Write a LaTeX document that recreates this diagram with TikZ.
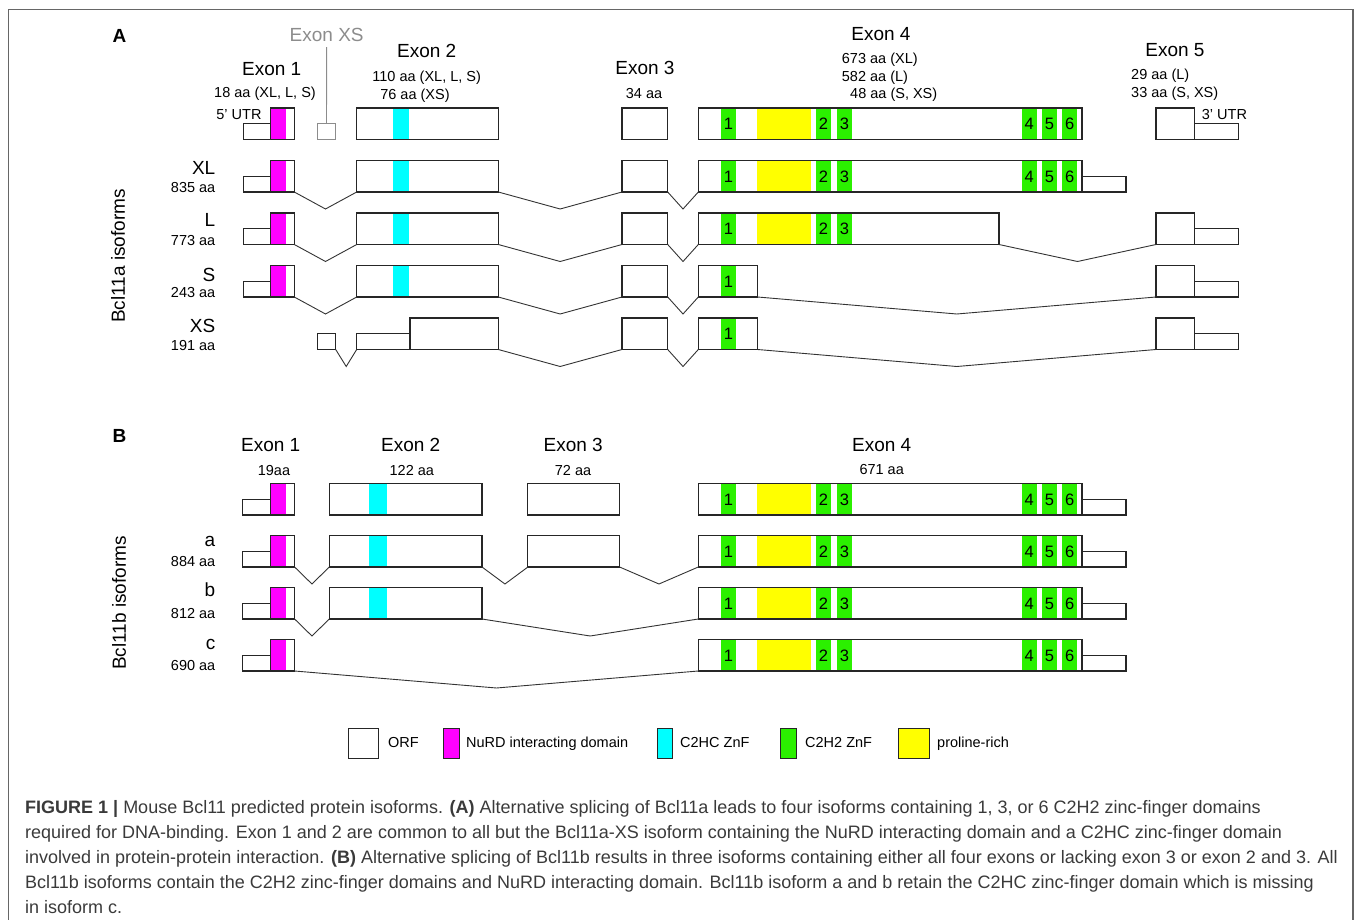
\documentclass[tikz,border=0pt]{standalone}
\usepackage{fontspec}
\setmainfont{Liberation Sans}
\newfontfamily\capfont{Liberation Sans}
\usetikzlibrary{calc}
\definecolor{nurd}{HTML}{FF00FF}
\definecolor{chc}{HTML}{00FFFF}
\definecolor{zinc}{HTML}{2BF000}
\definecolor{prol}{HTML}{FFFF00}
\definecolor{capgray}{HTML}{3A3A3A}
\definecolor{xsgray}{HTML}{8C8C8C}

\begin{document}
\begin{tikzpicture}[x=1pt, y=-1pt,
  exon/.style={draw=black!85, line width=1.1pt, inner sep=0pt, outer sep=0pt, anchor=north west, minimum height=31.5pt},
  utr/.style={exon, anchor=south west, minimum height=15.75pt},
  intron/.style={black!80, line width=0.9pt},
  zfnum/.style={inner sep=0pt, font=\fontsize{16.5}{16.5}\selectfont},
  hdr/.style={inner sep=0pt, anchor=base, font=\fontsize{19}{19}\selectfont},
  aatxt/.style={inner sep=0pt, anchor=base, font=\fontsize{14.5}{14.5}\selectfont},
  legkey/.style={draw=black!85, line width=1pt, inner sep=0pt, outer sep=0pt, minimum height=30pt, anchor=west},
  capline/.style={inner sep=0pt, anchor=base west, text=capgray, font=\capfont\fontsize{18}{18}\selectfont}]
  \useasboundingbox (0,0) rectangle (1358,920);
  \draw[black!60, line width=1.2pt] (8.3,925) -- (8.3,9.3) -- (1353,9.3) -- (1353,925);

  % zinc fingers of exon 4
  \def\zfall{1/721/736,2/816/831,3/837/852,4/1021.5/1037,5/1041.7/1057,6/1062/1077.3}
  \def\zfthree{1/721/736,2/816/831,3/837/852}
  \def\zfone{1/721/736}
  \def\fingers#1#2#3{\foreach \n/\xa/\xb in #3 {
      \fill[zinc] (\xa,#2) rectangle (\xb,#2+31.5);
      \node[zfnum] (#1z\n) at ({(\xa+\xb)/2},#2+16) {\n};}}
  \def\splice#1#2{\draw[intron] (#1.south east) -- ($(#1.south east)!.5!(#2.south west)+(0,17)$) -- (#2.south west);}

  %%% A: Bcl11a
  \node[hdr, font=\fontsize{19}{19}\selectfont\bfseries] (pA) at (119.5,42.7) {A};
  \node[hdr] (tA1) at (271.7,76) {Exon 1};
  \node[aatxt] (aA1) at (265,97.3) {18 aa (XL, L, S)};
  \node[aatxt, anchor=base east] (u5A) at (261.7,120) {5' UTR};
  \node[hdr, text=xsgray] (tAxs) at (326.7,41.7) {Exon XS};
  \node[hdr] (tA2) at (426.7,57.3) {Exon 2};
  \node[aatxt] (aA2) at (426.7,81.7) {110 aa (XL, L, S)};
  \node[aatxt] (aA2b) at (415,99.3) {76 aa (XS)};
  \node[hdr] (tA3) at (645,75) {Exon 3};
  \node[aatxt] (aA3) at (644,99) {34 aa};
  \node[hdr] (tA4) at (881,40.7) {Exon 4};
  \node[aatxt, anchor=base west] (aA4) at (841.7,63.3) {673 aa (XL)};
  \node[aatxt, anchor=base west] (aA4b) at (841.7,81.3) {582 aa (L)};
  \node[aatxt, anchor=base west] (aA4c) at (850,99) {48 aa (S, XS)};
  \node[hdr] (tA5) at (1175,56.7) {Exon 5};
  \node[aatxt, anchor=base west] (aA5) at (1131,80) {29 aa (L)};
  \node[aatxt, anchor=base west] (aA5b) at (1131,97.3) {33 aa (S, XS)};
  \node[aatxt, anchor=base west] (u3A) at (1201.7,119.3) {3' UTR};
  \node[hdr, rotate=90, anchor=center] (isoA) at (118,256) {Bcl11a isoforms};
  \node[hdr, anchor=base east] (nXL) at (215.5,174.3) {XL};
  \node[aatxt, anchor=base east] (sXL) at (215.5,192.3) {835 aa};
  \node[hdr, anchor=base east] (nL) at (215.5,226.5) {L};
  \node[aatxt, anchor=base east] (sL) at (215.5,245.7) {773 aa};
  \node[hdr, anchor=base east] (nS) at (215.5,281) {S};
  \node[aatxt, anchor=base east] (sS) at (215.5,297.5) {243 aa};
  \node[hdr, anchor=base east] (nXS) at (215.5,332.7) {XS};
  \node[aatxt, anchor=base east] (sXS) at (215.5,350) {191 aa};

  % exon 1 and 2
  \foreach \rw/\yt in {h/108,xl/160.5,l/213,s/265.5} {
    \fill[nurd] (270.7,\yt) rectangle (286,\yt+31.5);
    \fill[chc] (393.3,\yt) rectangle (409.3,\yt+31.5);
    \node[utr, minimum width=27.4] (\rw u5) at (243.3,\yt+31.5) {};
    \node[exon, minimum width=23.6] (\rw e1) at (270.7,\yt) {};
    \node[exon, minimum width=141.6] (\rw e2) at (356.7,\yt) {};
  }
  \node[utr, draw=xsgray, line width=0.9pt, minimum width=18.4] (hxs) at (317.3,139.5) {};
  \draw[xsgray, line width=0.9pt, shorten >=5pt] (hxs.north) -- (tAxs.south);
  \node[utr, minimum width=18.4] (xsxs) at (317.3,349.5) {};
  \node[utr, minimum width=53.3] (xse2a) at (356.7,349.5) {};
  \node[exon, minimum width=88.3] (xse2) at (410,318) {};

  % exon 3
  \foreach \rw/\yt in {h/108,xl/160.5,l/213,s/265.5,xs/318}
    \node[exon, minimum width=45.7] (\rw e3) at (622,\yt) {};

  % exon 4
  \foreach \yt in {108,160.5,213}
    \fill[prol] (757,\yt) rectangle (810.5,\yt+31.5);
  \fingers{h}{108}{\zfall}
  \fingers{xl}{160.5}{\zfall}
  \fingers{l}{213}{\zfthree}
  \fingers{s}{265.5}{\zfone}
  \fingers{xs}{318}{\zfone}
  \node[exon, minimum width=383.7] (he4) at (698.3,108) {};
  \node[exon, minimum width=383.7] (xle4) at (698.3,160.5) {};
  \node[exon, minimum width=300.7] (le4) at (698.3,213) {};
  \node[exon, minimum width=59.3] (se4) at (698.3,265.5) {};
  \node[exon, minimum width=59.3] (xse4) at (698.3,318) {};
  \node[utr, minimum width=44] (xlu3) at (1082,192) {};

  % exon 5
  \foreach \rw/\yt in {h/108,l/213,s/265.5,xs/318} {
    \node[exon, minimum width=38.3] (\rw e5) at (1156,\yt) {};
    \node[utr, minimum width=44] (\rw u3) at (1194.3,\yt+31.5) {};
  }

  \splice{xle1}{xle2} \splice{xle2}{xle3} \splice{xle3}{xle4}
  \splice{le1}{le2} \splice{le2}{le3} \splice{le3}{le4} \splice{le4}{le5}
  \splice{se1}{se2} \splice{se2}{se3} \splice{se3}{se4} \splice{se4}{se5}
  \splice{xsxs}{xse2a} \splice{xse2}{xse3} \splice{xse3}{xse4} \splice{xse4}{xse5}

  %%% B: Bcl11b
  \node[hdr, font=\fontsize{19}{19}\selectfont\bfseries] (pB) at (119.5,442.7) {B};
  \node[hdr] (tB1) at (270.7,451.5) {Exon 1};
  \node[aatxt] (aB1) at (274,475) {19aa};
  \node[hdr] (tB2) at (410.7,451.5) {Exon 2};
  \node[aatxt] (aB2) at (411.8,475) {122 aa};
  \node[hdr] (tB3) at (573.2,451.5) {Exon 3};
  \node[aatxt] (aB3) at (573,475) {72 aa};
  \node[hdr] (tB4) at (881.7,451) {Exon 4};
  \node[aatxt] (aB4) at (881.7,474.5) {671 aa};
  \node[hdr, rotate=90, anchor=center] (isoB) at (119,603) {Bcl11b isoforms};
  \node[hdr, anchor=base east] (na) at (215.5,546) {a};
  \node[aatxt, anchor=base east] (sa) at (215.5,566.7) {884 aa};
  \node[hdr, anchor=base east] (nb) at (215.5,596.7) {b};
  \node[aatxt, anchor=base east] (sb) at (215.5,618.3) {812 aa};
  \node[hdr, anchor=base east] (nc) at (215.5,649.3) {c};
  \node[aatxt, anchor=base east] (sc) at (215.5,670.7) {690 aa};

  \foreach \rw/\yt in {bh/483.5,ba/535.5,bb/587.5,bc/639.5} {
    \fill[nurd] (270.7,\yt) rectangle (286.4,\yt+31.5);
    \fill[prol] (757,\yt) rectangle (810.5,\yt+31.5);
    \fingers{\rw}{\yt}{\zfall}
    \node[utr, minimum width=27.8] (\rw u5) at (242.9,\yt+31.5) {};
    \node[exon, minimum width=23.9] (\rw e1) at (270.7,\yt) {};
    \node[exon, minimum width=383.7] (\rw e4) at (698.3,\yt) {};
    \node[utr, minimum width=44] (\rw u3) at (1082,\yt+31.5) {};
  }
  \foreach \rw/\yt in {bh/483.5,ba/535.5,bb/587.5} {
    \fill[chc] (368.9,\yt) rectangle (386.8,\yt+31.5);
    \node[exon, minimum width=152.7] (\rw e2) at (329.3,\yt) {};
  }
  \foreach \rw/\yt in {bh/483.5,ba/535.5}
    \node[exon, minimum width=91.7] (\rw e3) at (527.9,\yt) {};

  \splice{bae1}{bae2} \splice{bae2}{bae3} \splice{bae3}{bae4}
  \splice{bbe1}{bbe2} \splice{bbe2}{bbe4}
  \splice{bce1}{bce4}

  % legend
  \node[legkey, minimum width=30] (kORF) at (348.5,743) {};
  \node[legkey, fill=nurd, minimum width=16] (kNuRD) at (443,743) {};
  \node[legkey, fill=chc, minimum width=15] (kC2HC) at (657,743) {};
  \node[legkey, fill=zinc, minimum width=15.5] (kC2H2) at (780.5,743) {};
  \node[legkey, fill=prol, minimum width=30.5] (kPro) at (898.5,743) {};
  \node[aatxt, anchor=base west] (lORF) at (388,747.5) {ORF};
  \node[aatxt, anchor=base west] (lNuRD) at (466,747.5) {NuRD interacting domain};
  \node[aatxt, anchor=base west] (lC2HC) at (680,747.5) {C2HC ZnF};
  \node[aatxt, anchor=base west] (lC2H2) at (805,747.5) {C2H2 ZnF};
  \node[aatxt, anchor=base west] (lPro) at (937,747.5) {proline-rich};

  % caption
  \node[capline] (cap1) at (25,813) {\textbf{FIGURE 1 |} Mouse Bcl11 predicted protein isoforms. \textbf{(A)} Alternative splicing of Bcl11a leads to four isoforms containing 1, 3, or 6 C2H2 zinc-finger domains};
  \node[capline] (cap2) at (25,838) {required for DNA-binding. Exon 1 and 2 are common to all but the Bcl11a-XS isoform containing the NuRD interacting domain and a C2HC zinc-finger domain};
  \node[capline] (cap3) at (25,863) {involved in protein-protein interaction. \textbf{(B)} Alternative splicing of Bcl11b results in three isoforms containing either all four exons or lacking exon 3 or exon 2 and 3. All};
  \node[capline] (cap4) at (25,888) {Bcl11b isoforms contain the C2H2 zinc-finger domains and NuRD interacting domain. Bcl11b isoform a and b retain the C2HC zinc-finger domain which is missing};
  \node[capline] (cap5) at (25,913) {in isoform c.};
\end{tikzpicture}
\end{document}
